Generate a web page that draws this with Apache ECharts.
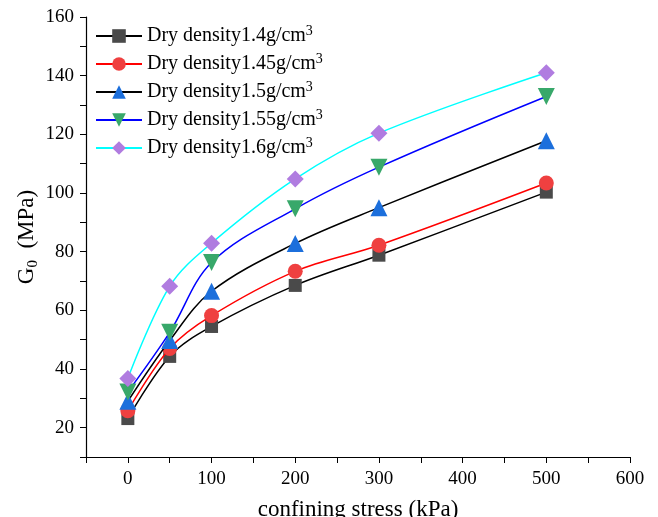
<!DOCTYPE html>
<html><head><meta charset="utf-8">
<script src="https://cdn.jsdelivr.net/npm/echarts@6/dist/echarts.min.js"></script>
<style>html,body{margin:0;padding:0;background:#fff}#c{width:658px;height:517px}</style>
</head><body><div id="c"></div>
<script>
var stress = [0, 50, 100, 200, 300, 500];
var names = ['1.4', '1.45', '1.5', '1.55', '1.6'];
var d14  = [23.1, 44.3, 54.5, 68.5, 78.8, 100.3];
var d145 = [25.8, 47.0, 58.2, 73.3, 82.2, 103.4];
var d15  = [29.0, 49.7, 66.5, 82.8, 95.0, 117.8];
var d155 = [32.2, 52.5, 76.3, 94.6, 108.8, 132.9];
var d16  = [36.8, 68.2, 82.9, 104.8, 120.4, 141.0];
var xTicks = [0, 100, 200, 300, 400, 500, 600];
var yTicks = [20, 40, 60, 80, 100, 120, 140, 160];

var lineColors = ['#000000', '#ff0000', '#000000', '#0000ff', '#00ffff'];
var markColors = ['#4a4a4a', '#ef4040', '#1c6fdc', '#38a86a', '#b07ce0'];
var symbols = ['rect', 'circle', 'triangle', 'path://M0,0 L10,0 L5,9 Z', 'diamond'];
var sizes = [13, 15, 17, 17, 17];
var datas = [d14, d145, d15, d155, d16];

var font = 'Liberation Serif, Times New Roman, serif';
var series = datas.map(function (arr, i) {
  return {
    name: 'Dry density' + names[i] + 'g/cm',
    type: 'line',
    smooth: 0.35,
    data: arr.map(function (v, j) { return [stress[j], v]; }),
    symbol: symbols[i],
    symbolSize: sizes[i],
    lineStyle: { color: lineColors[i], width: 1.5 },
    itemStyle: { color: markColors[i], opacity: 1 },
    z: 2 + i
  };
});

var chart = echarts.init(document.getElementById('c'), null, { renderer: 'canvas' });
chart.setOption({
  animation: false,
  backgroundColor: '#fff',
  grid: { left: 86, right: 28, top: 17, bottom: 60, containLabel: false, outerBoundsMode: 'none' },
  legend: {
    left: 90, top: 19, orient: 'vertical', itemGap: 6,
    itemWidth: 46, itemHeight: 17,
    formatter: function (n) { return '{a|' + n + '}{s|3}'; },
    textStyle: {
      fontFamily: font, fontSize: 20, color: '#000',
      rich: {
        a: { fontFamily: font, fontSize: 20, color: '#000' },
        s: { fontFamily: font, fontSize: 14, color: '#000', padding: [0, 0, 10, 0] }
      }
    }
  },
  xAxis: {
    type: 'value', min: -50, max: 600, interval: 50,
    name: 'confining stress (kPa)', nameLocation: 'middle', nameGap: 41, nameMoveOverlap: false,
    nameTextStyle: { fontFamily: font, fontSize: 23, color: '#000' },
    axisLine: { onZero: false, lineStyle: { color: '#000', width: 1.2 } },
    axisTick: { show: true, inside: false, length: 6, lineStyle: { color: '#000' } },
    axisLabel: {
      fontFamily: font, fontSize: 19, color: '#000', margin: 13,
      formatter: function (v) { return xTicks.indexOf(v) >= 0 ? String(v) : ''; }
    },
    splitLine: { show: false }
  },
  yAxis: {
    type: 'value', min: 10, max: 160, interval: 10,
    name: '{a|G}{b|0}{a|  (MPa)}', nameLocation: 'middle', nameGap: 45, nameRotate: 90,
    nameMoveOverlap: false,
    nameTextStyle: {
      fontFamily: font, fontSize: 23, color: '#000',
      rich: {
        a: { fontFamily: font, fontSize: 23, color: '#000' },
        b: { fontFamily: font, fontSize: 15, color: '#000', padding: [13, 0, 0, 0] }
      }
    },
    axisLine: { show: true, onZero: false, lineStyle: { color: '#000', width: 1.2 } },
    axisTick: { show: true, inside: false, length: 6, lineStyle: { color: '#000' } },
    axisLabel: {
      fontFamily: font, fontSize: 19, color: '#000', margin: 12,
      formatter: function (v) { return yTicks.indexOf(v) >= 0 ? String(v) : ''; }
    },
    splitLine: { show: false }
  },
  series: series
});
</script>
</body></html>
